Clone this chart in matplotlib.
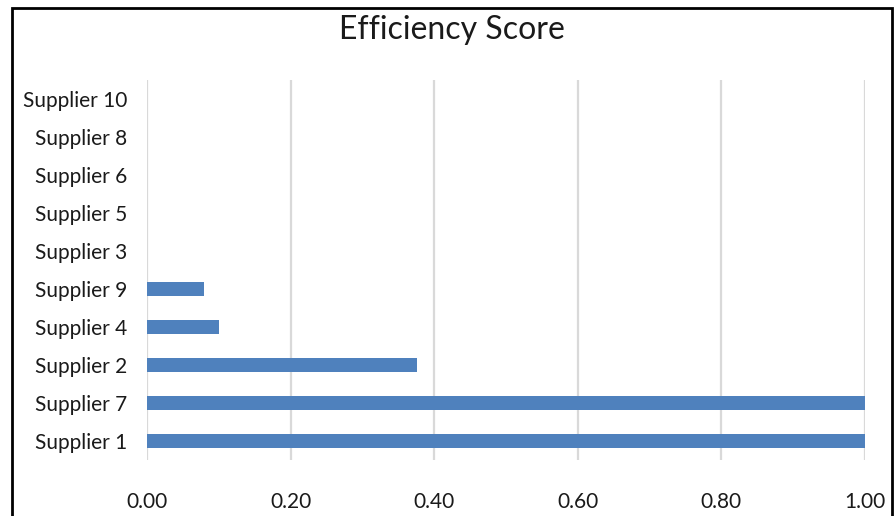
import matplotlib.pyplot as plt
from matplotlib.patches import Rectangle

suppliers = ["Supplier 1", "Supplier 7", "Supplier 2", "Supplier 4", "Supplier 9",
             "Supplier 3", "Supplier 5", "Supplier 6", "Supplier 8", "Supplier 10"]
scores = [1.0, 1.0, 0.376, 0.10, 0.08, 0.0, 0.0, 0.0, 0.0, 0.0]
xticks = [0.0, 0.2, 0.4, 0.6, 0.8, 1.0]

plt.rcParams["font.family"] = ["Lato", "DejaVu Sans"]

fig = plt.figure(figsize=(8.96, 5.16), dpi=100)
ax = fig.add_axes([147 / 896, 1 - 460 / 516, 718 / 896, 380 / 516])

pos = range(len(suppliers))
ax.barh(pos, scores, height=0.36, color="#4F81BD", linewidth=0, zorder=3)

ax.set_xlim(0, 1.0)
ax.set_ylim(-0.5, len(suppliers) - 0.5)
ax.set_yticks(list(pos))
ax.set_yticklabels(suppliers, fontsize=15, color="#1a1a1a")
ax.set_xticks(xticks)
ax.set_xticklabels(["%.2f" % t for t in xticks], fontsize=15, color="#1a1a1a")
ax.tick_params(axis="both", length=0)
ax.tick_params(axis="y", pad=14)
ax.tick_params(axis="x", pad=23)

for t in xticks:
    ax.axvline(t, color="#D9D9D9", linewidth=1.6, zorder=1)
for s in ax.spines.values():
    s.set_visible(False)

fig.text(452 / 896, 1 - 30 / 516, "Efficiency Score", ha="center", va="center",
         fontsize=23, color="#1a1a1a")

# outer chart border, bottom edge runs past the canvas
fig.patches.append(Rectangle((12 / 896, -0.05), 880 / 896, 1.05 - 8 / 516,
                             transform=fig.transFigure, fill=False,
                             edgecolor="black", linewidth=2))

fig.savefig("out.png", dpi=100)
